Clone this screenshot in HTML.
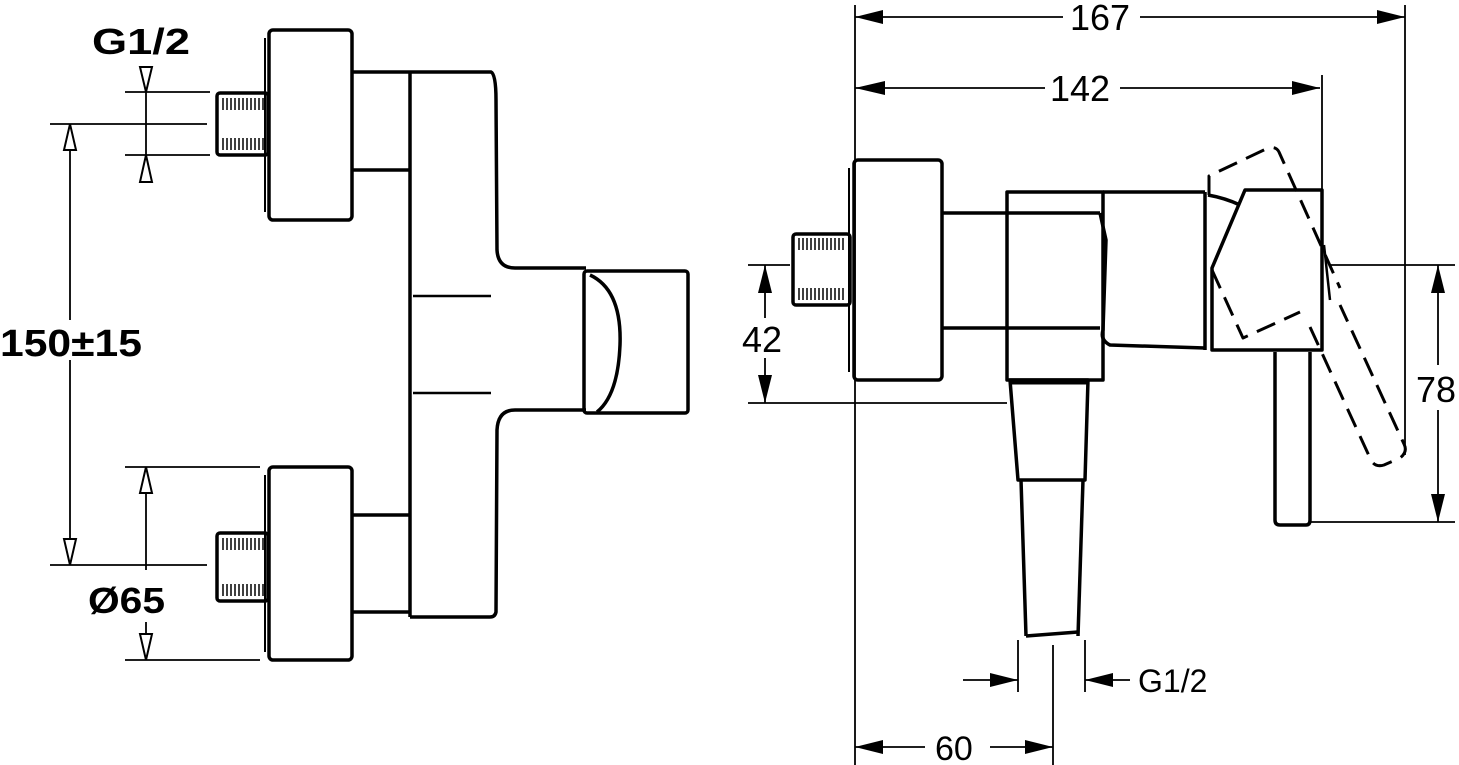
<!DOCTYPE html>
<html><head><style>body{margin:0;background:#fff}svg{display:block}text{font-family:"Liberation Sans",sans-serif;fill:#000}</style></head>
<body>
<svg width="1459" height="765" viewBox="0 0 1459 765" xmlns="http://www.w3.org/2000/svg">
<g fill="none" stroke="#000" stroke-width="3.5" stroke-linejoin="round">
<rect x="269" y="30" width="83" height="190" rx="4"/>
<line x1="265" y1="38" x2="265" y2="212" stroke-width="2"/>
<rect x="217" y="93" width="51" height="62" rx="3"/>
<rect x="269" y="467" width="83" height="193" rx="4"/>
<line x1="265" y1="475" x2="265" y2="652" stroke-width="2"/>
<rect x="217" y="533" width="51" height="68" rx="3"/>
<line x1="352" y1="72" x2="410" y2="72"/><line x1="352" y1="170" x2="410" y2="170"/>
<line x1="352" y1="515" x2="410" y2="515"/><line x1="352" y1="612" x2="410" y2="612"/>
<path d="M410,72 L491,72 Q496,74 496,100 L497,250 Q498,268 515,268 L586,268"/>
<path d="M586,410 L515,410 Q498,410 497,430 L496,612 Q495,617 490,617 L410,617"/>
<line x1="410" y1="72" x2="410" y2="617"/>
<line x1="413" y1="296" x2="491" y2="296" stroke-width="2.5"/>
<line x1="413" y1="393" x2="491" y2="393" stroke-width="2.5"/>
<rect x="584" y="271" width="104" height="142" rx="3"/>
<path d="M590,275 Q622,290 620,345 Q618,395 597,412"/>
<rect x="854" y="160" width="88" height="220" rx="4"/>
<line x1="849" y1="168" x2="849" y2="372" stroke-width="2"/>
<rect x="793" y="234" width="57" height="71" rx="3"/>
<line x1="942" y1="213" x2="1007" y2="213"/><line x1="942" y1="328" x2="1007" y2="328"/>
<rect x="1007" y="192" width="96" height="188"/>
<line x1="1007" y1="213" x2="1100" y2="213"/><line x1="1007" y1="328" x2="1100" y2="328"/>
<path d="M1100,213 L1106,240 L1103,330 Q1100,340 1110,345 L1205,348"/>
<line x1="1103" y1="192" x2="1205" y2="192"/>
<line x1="1205" y1="192" x2="1205" y2="350"/>
<path d="M1208,195 Q1225,198 1240,205"/>
<path d="M1010,380 L1088,380 L1085,480 L1018,480 Z"/>
<line x1="1010" y1="382" x2="1088" y2="382" stroke-width="5"/>
<line x1="1021" y1="480" x2="1026" y2="636"/><line x1="1083" y1="480" x2="1078" y2="636"/>
<line x1="1026" y1="636" x2="1078" y2="632"/>
<path d="M1245,190 L1322,190 L1322,350 L1212,350 L1212,268 Z"/>
<path d="M1275,352 L1275,520 Q1275,525 1280,525 L1306,525 Q1310,525 1310,520 L1310,352"/>
<path d="M1324,245 L1330,300" stroke-width="2.5"/>
<g stroke-dasharray="20,10" stroke-width="3">
<path d="M1209,195 L1209,176 L1268,148 Q1276,146 1279,152 L1340,288"/>
<path d="M1212,270 L1243,338 L1300,312"/>
<path d="M1310,327 L1370,458 Q1374,468 1384,465 L1400,458 Q1408,452 1404,444 L1340,305"/>
</g>
</g>
<g stroke="#000" stroke-width="1.5">
<path d="M223,98v12M227,98v12M231,98v12M235,98v12M239,98v12M243,98v12M247,98v12M251,98v12M255,98v12M259,98v12M263,98v12"/>
<path d="M223,138v12M227,138v12M231,138v12M235,138v12M239,138v12M243,138v12M247,138v12M251,138v12M255,138v12M259,138v12M263,138v12"/>
<path d="M223,538v12M227,538v12M231,538v12M235,538v12M239,538v12M243,538v12M247,538v12M251,538v12M255,538v12M259,538v12M263,538v12"/>
<path d="M223,584v12M227,584v12M231,584v12M235,584v12M239,584v12M243,584v12M247,584v12M251,584v12M255,584v12M259,584v12M263,584v12"/>
<path d="M799,238v12M803,238v12M807,238v12M811,238v12M815,238v12M819,238v12M823,238v12M827,238v12M831,238v12M835,238v12M839,238v12M843,238v12"/>
<path d="M799,288v12M803,288v12M807,288v12M811,288v12M815,288v12M819,288v12M823,288v12M827,288v12M831,288v12M835,288v12M839,288v12M843,288v12"/>
</g>
<g stroke="#000" stroke-width="1.8" fill="none">
<line x1="125" y1="92" x2="210" y2="92"/><line x1="125" y1="155" x2="210" y2="155"/>
<line x1="146" y1="67" x2="146" y2="182"/>
<line x1="50" y1="124" x2="207" y2="124"/><line x1="50" y1="565" x2="207" y2="565"/>
<line x1="70" y1="124" x2="70" y2="320"/><line x1="70" y1="360" x2="70" y2="565"/>
<line x1="125" y1="467" x2="260" y2="467"/><line x1="125" y1="660" x2="260" y2="660"/>
<line x1="146" y1="467" x2="146" y2="570"/><line x1="146" y1="622" x2="146" y2="660"/>
<line x1="855" y1="5" x2="855" y2="765"/><line x1="1405" y1="5" x2="1405" y2="455"/>
<line x1="1322" y1="75" x2="1322" y2="190"/>
<line x1="855" y1="17" x2="1063" y2="17"/><line x1="1140" y1="17" x2="1405" y2="17"/>
<line x1="855" y1="88" x2="1045" y2="88"/><line x1="1120" y1="88" x2="1320" y2="88"/>
<line x1="748" y1="265" x2="790" y2="265"/><line x1="748" y1="403" x2="1007" y2="403"/>
<line x1="765" y1="265" x2="765" y2="318"/><line x1="765" y1="358" x2="765" y2="403"/>
<line x1="1330" y1="265" x2="1455" y2="265"/><line x1="1310" y1="522" x2="1455" y2="522"/>
<line x1="1438" y1="265" x2="1438" y2="365"/><line x1="1438" y1="410" x2="1438" y2="522"/>
<line x1="1018" y1="640" x2="1018" y2="692"/><line x1="1085" y1="640" x2="1085" y2="692"/>
<line x1="963" y1="680" x2="1018" y2="680"/><line x1="1085" y1="680" x2="1130" y2="680"/>
<line x1="1053" y1="645" x2="1053" y2="765"/>
<line x1="855" y1="747" x2="925" y2="747"/><line x1="990" y1="747" x2="1053" y2="747"/>
</g>
<g fill="#fff" stroke="#000" stroke-width="2">
<path d="M140,67 L152,67 L146,92 Z"/><path d="M140,182 L152,182 L146,155 Z"/>
<path d="M64,150 L76,150 L70,124 Z"/><path d="M64,539 L76,539 L70,565 Z"/>
<path d="M140,493 L152,493 L146,467 Z"/><path d="M140,634 L152,634 L146,660 Z"/>
</g>
<g fill="#000">
<path d="M855,17 L883,10 L883,24 Z"/><path d="M1405,17 L1377,10 L1377,24 Z"/>
<path d="M855,88 L885,81 L885,95 Z"/><path d="M1320,88 L1292,81 L1292,95 Z"/>
<path d="M765,265 L758,293 L772,293 Z"/><path d="M765,403 L758,375 L772,375 Z"/>
<path d="M1438,265 L1431,293 L1445,293 Z"/><path d="M1438,522 L1431,494 L1445,494 Z"/>
<path d="M1018,680 L990,673 L990,687 Z"/><path d="M1085,680 L1113,673 L1113,687 Z"/>
<path d="M855,747 L883,740 L883,754 Z"/><path d="M1053,747 L1025,740 L1025,754 Z"/>
</g>
<text x="92" y="54" font-size="36" font-weight="bold" textLength="98" lengthAdjust="spacingAndGlyphs">G1/2</text>
<text x="0" y="356" font-size="38" font-weight="bold" textLength="142" lengthAdjust="spacingAndGlyphs">150±15</text>
<text x="88" y="613" font-size="36" font-weight="bold" textLength="77" lengthAdjust="spacingAndGlyphs">Ø65</text>
<text x="1070" y="30" font-size="36">167</text>
<text x="1050" y="101" font-size="36">142</text>
<text x="742" y="352" font-size="36">42</text>
<text x="1416" y="402" font-size="36">78</text>
<text x="1138" y="692" font-size="32">G1/2</text>
<text x="935" y="760" font-size="34">60</text>
</svg>
</body></html>
